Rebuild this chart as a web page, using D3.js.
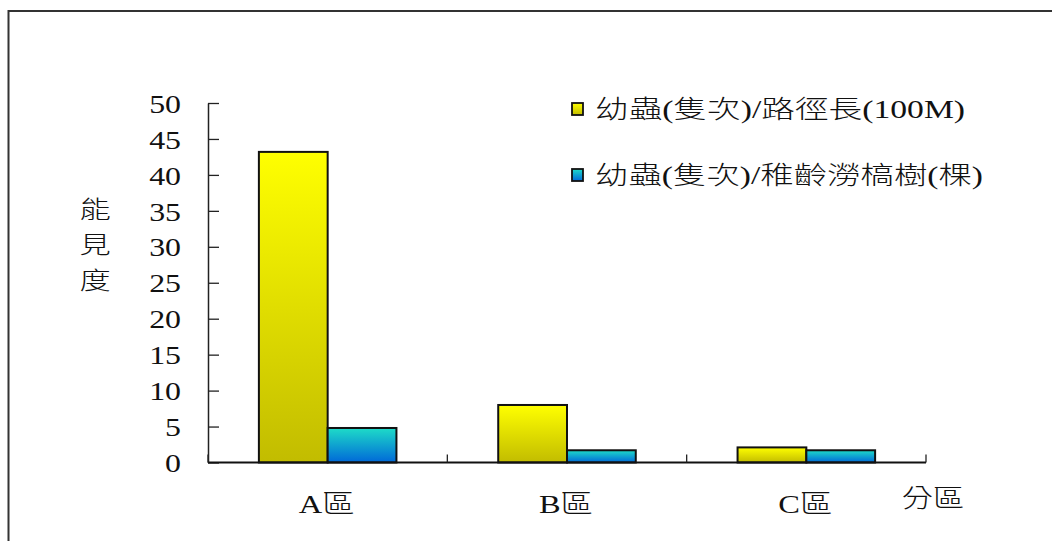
<!DOCTYPE html>
<html><head><meta charset="utf-8">
<script src="https://cdn.jsdelivr.net/npm/d3@7"></script>
<style>
html,body{margin:0;padding:0;background:#fff;}
svg{display:block;}
text{font-family:"Liberation Serif","Noto Sans CJK TC",serif;fill:#111;font-weight:300;}
</style></head>
<body>
<svg id="c" width="1052" height="541"></svg>
<script>
const categories = ["A區", "B區", "C區"];
const seriesNames = ["幼蟲(隻次)/路徑長(100M)", "幼蟲(隻次)/稚齡澇槁樹(棵)"];
const seriesPath = [43.2, 8.0, 2.1];
const seriesTree = [4.8, 1.7, 1.7];
const yTicks = [0, 5, 10, 15, 20, 25, 30, 35, 40, 45, 50];
const yTitle = ["能", "見", "度"];
const xTitle = "分區";

const svg = d3.select("#c");
const SX = 1.25;

// gradients
const defs = svg.append("defs");
const g1 = defs.append("linearGradient").attr("id","gy").attr("x1",0).attr("y1",0).attr("x2",0).attr("y2",1);
g1.append("stop").attr("offset","0%").attr("stop-color","#ffff00");
g1.append("stop").attr("offset","100%").attr("stop-color","#c2bc00");
const g2 = defs.append("linearGradient").attr("id","gb").attr("x1",0).attr("y1",0).attr("x2",0).attr("y2",1);
g2.append("stop").attr("offset","0%").attr("stop-color","#1edcc8");
g2.append("stop").attr("offset","100%").attr("stop-color","#0068d8");
const fills = ["url(#gy)", "url(#gb)"];

// outer frame
svg.append("rect").attr("x",8.5).attr("y",11).attr("width",1100).attr("height",600)
  .attr("fill","none").attr("stroke","#333").attr("stroke-width",2);

const x = d3.scaleBand().domain(categories).range([208, 926]).padding(0);
const y = d3.scaleLinear().domain([0, 50]).range([462.5, 103]);
const inner = d3.scaleBand().domain([0,1]).range([0, x.bandwidth()]).paddingInner(0).paddingOuter(0.74);

// y axis
const yAxis = svg.append("g").attr("transform","translate(208,0)")
  .call(d3.axisLeft(y).tickValues(yTicks).tickSizeInner(-11).tickSizeOuter(0).tickPadding(27));
yAxis.select(".domain").attr("stroke","#222").attr("stroke-width",1.5);
yAxis.selectAll(".tick line").attr("stroke","#222").attr("stroke-width",1.3);
yAxis.selectAll(".tick text").attr("font-size",25.5).attr("fill","#111")
  .attr("font-family",'"Liberation Serif",serif')
  .attr("transform", function(){ const xx = +d3.select(this).attr("x"); return `translate(${xx*(1-SX)},0) scale(${SX},1)`; })
  .attr("dy","0.36em");

// bars
const data = categories.map((c,i)=>({c, v:[seriesPath[i], seriesTree[i]]}));
const grp = svg.append("g");
data.forEach(d=>{
  d.v.forEach((v,j)=>{
    grp.append("rect")
      .attr("x", x(d.c)+inner(j)).attr("y", y(v))
      .attr("width", inner.bandwidth()).attr("height", y(0)-y(v))
      .attr("fill", fills[j]).attr("stroke","#111").attr("stroke-width",2);
  });
});

// x axis
const xa = svg.append("g");
xa.append("line").attr("x1",208).attr("x2",926).attr("y1",y(0)).attr("y2",y(0))
  .attr("stroke","#111").attr("stroke-width",2);
const edges = categories.map(c=>x(c)).concat([x(categories[categories.length-1])+x.bandwidth()]);
xa.selectAll("line.t").data(edges).join("line").attr("class","t")
  .attr("x1",d=>d).attr("x2",d=>d).attr("y1",y(0)).attr("y2",y(0)-8)
  .attr("stroke","#222").attr("stroke-width",1.3);
categories.forEach(c=>{
  const cx = x(c)+x.bandwidth()/2 - 1;
  svg.append("text").attr("transform",`translate(${cx},504) scale(${SX},1)`)
    .attr("text-anchor","middle").attr("dy","0.35em").attr("font-size",26).text(c);
});
svg.append("text").attr("transform",`translate(933,498) scale(${SX},1)`)
  .attr("text-anchor","middle").attr("dy","0.35em").attr("font-size",25).text(xTitle);

// y title
yTitle.forEach((ch,i)=>{
  svg.append("text").attr("transform",`translate(95,${209+i*35.5}) scale(1.3,1)`)
    .attr("text-anchor","middle").attr("dy","0.36em").attr("font-size",24).text(ch);
});

// legend
const legY = [109, 175];
const legLen = [370, 388];
seriesNames.forEach((s,i)=>{
  svg.append("rect").attr("x",572).attr("y",legY[i]-6).attr("width",11).attr("height",12)
    .attr("fill",fills[i]).attr("stroke","#111").attr("stroke-width",1.8);
  svg.append("text").attr("x",595).attr("y",legY[i]).attr("dy","0.36em")
    .attr("font-size",25).attr("textLength",legLen[i]).attr("lengthAdjust","spacingAndGlyphs").text(s);
});
</script>
</body></html>
